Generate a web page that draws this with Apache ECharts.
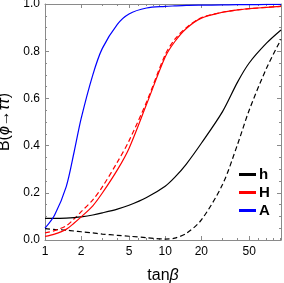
<!DOCTYPE html>
<html><head><meta charset="utf-8">
<script src="https://cdn.jsdelivr.net/npm/echarts@6/dist/echarts.min.js"></script>
<style>html,body{margin:0;padding:0;background:#fff}#c{width:284px;height:283px}</style>
</head><body><div id="c"></div>
<script>
const tanBeta = [1,1.2,1.5,1.75,2,2.5,3,4,5,7,10,12,15,20,30,40,50,70,92];
const A_solid = [0.05,0.105,0.225,0.375,0.515,0.70,0.812,0.914,0.958,0.983,0.99,0.992,0.994,0.995,0.996,0.997,0.997,0.998,0.998];
const H_solid = [0.015,0.025,0.045,0.072,0.098,0.145,0.199,0.297,0.388,0.575,0.775,0.84,0.896,0.94,0.965,0.975,0.98,0.986,0.99];
const H_dashed = [0.03,0.04,0.06,0.09,0.12,0.17,0.225,0.33,0.42,0.585,0.785,0.85,0.90,0.942,0.965,0.975,0.98,0.986,0.99];
const h_solid = [0.092,0.092,0.093,0.095,0.098,0.106,0.115,0.131,0.147,0.18,0.228,0.265,0.322,0.41,0.544,0.669,0.75,0.835,0.89];
const h_dashed = [0.048,0.045,0.042,0.038,0.035,0.03,0.025,0.02,0.016,0.01,0.004,0.008,0.028,0.085,0.235,0.405,0.55,0.73,0.85];
const xMajorTicks = [1,2,5,10,20,50];
const xMinorTicks = [3,4,6,7,8,9,30,40,60,70,80,90];
const xMin = 1, xMax = 92;

const frame = '#8a8a8a';
const font = 'Liberation Sans, Arial, sans-serif';
function pairs(ys){ return tanBeta.map((x,i)=>[x, ys[i]]); }
function xAx(pos, ticks, len, labels, line){
  return {
    type:'log', logBase:10, min:xMin, max:xMax, position:pos,
    axisLine:{show:line, onZero:false, lineStyle:{color:frame, width:1}},
    axisTick:{show:true, inside:true, length:len, customValues:ticks, lineStyle:{color:frame}},
    axisLabel:{show:labels, customValues:ticks, color:'#000', fontSize:12, fontFamily:font, margin:6},
    splitLine:{show:false}, minorTick:{show:false}
  };
}
function yAx(pos, labels){
  return {
    type:'value', min:0, max:1, interval:0.2, position:pos,
    axisLine:{show:true, onZero:false, lineStyle:{color:frame, width:1}},
    axisTick:{show:true, inside:true, length:4, lineStyle:{color:frame}},
    minorTick:{show:true, splitNumber:4, length:2, lineStyle:{color:frame}},
    axisLabel:{show:labels, color:'#000', fontSize:12, fontFamily:font, margin:5, formatter:v=>v.toFixed(1)},
    splitLine:{show:false}
  };
}
const xAxes = [xAx('bottom', xMajorTicks, 4, true, true), xAx('bottom', xMinorTicks, 2, false, false),
               xAx('top', xMajorTicks, 4, false, true), xAx('top', xMinorTicks, 2, false, false)];
xAxes[0].name = '{n|tan}{i|β}';
xAxes[0].nameLocation = 'middle';
xAxes[0].nameGap = 28;
xAxes[0].nameTextStyle = {rich:{n:{fontSize:16, fontFamily:font, color:'#000'}, i:{fontSize:16, fontFamily:font, fontStyle:'italic', color:'#000'}}};
const yAxes = [yAx('left', true), yAx('right', false)];
yAxes[0].name = '{n|B(}{i|ϕ}{n|→}{i|ττ}{n|)}';
yAxes[0].nameLocation = 'middle';
yAxes[0].nameGap = 25;
yAxes[0].nameTextStyle = {rich:{n:{fontSize:16, fontFamily:font, color:'#000'}, i:{fontSize:16, fontFamily:font, fontStyle:'italic', color:'#000'}}};

function line(name, ys, color, dashed){
  return {name, type:'line', data:pairs(ys), showSymbol:false, smooth:0.3,
    lineStyle:{color, width:1.2, type: dashed ? [5,3] : 'solid'}, itemStyle:{color}, z: dashed?2:3, silent:true};
}
const chart = echarts.init(document.getElementById('c'), null, {renderer:'canvas'});
chart.setOption({
  animation:false,
  backgroundColor:'#fff',
  grid:{left:45, top:4, right:3, bottom:43, containLabel:false, outerBoundsMode:'none'},
  legend:{data:['h','H','A'], orient:'vertical', left:234, top:162, icon:'rect', itemWidth:17, itemHeight:3,
    itemGap:3, selectedMode:false, textStyle:{fontSize:15, fontWeight:'bold', fontFamily:font, color:'#000', lineHeight:15, padding:[0,0,0,-2]}},
  xAxis: xAxes,
  yAxis: yAxes,
  series:[
    line('h2', h_dashed, '#000', true),
    line('H2', H_dashed, '#ff0000', true),
    line('h', h_solid, '#000', false),
    line('H', H_solid, '#ff0000', false),
    line('A', A_solid, '#0000ff', false)
  ]
});
</script></body></html>
